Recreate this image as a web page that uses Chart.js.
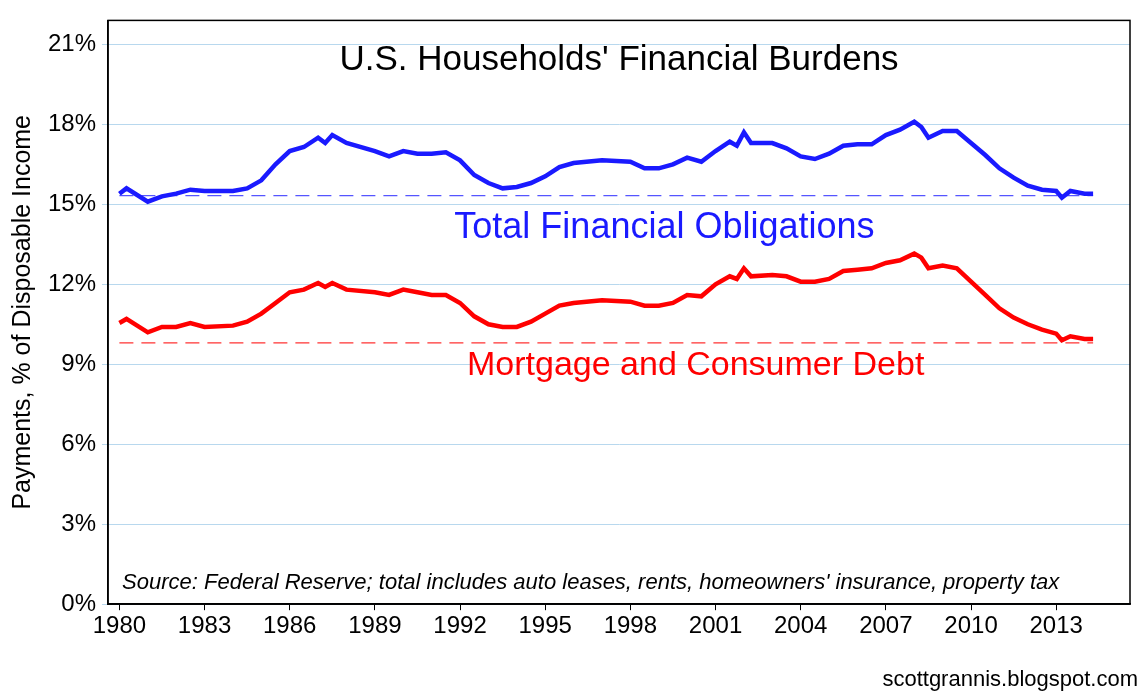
<!DOCTYPE html>
<html lang="en">
<head>
<meta charset="UTF-8">
<title>U.S. Households' Financial Burdens</title>
<script src="https://cdn.jsdelivr.net/npm/chart.js"></script>
<style>
  html, body { margin: 0; padding: 0; background: #fff; }
  .wrap { width: 1146px; height: 694px; }
</style>
</head>
<body>
<div class="wrap"><canvas id="burdens"></canvas></div>
<script>
// readings (year, % of disposable income)
const years = [1980, 1980.25, 1981, 1981.5, 1982, 1982.5, 1983, 1984, 1984.5, 1985, 1985.5, 1986, 1986.5, 1987, 1987.25, 1987.5,
  1988, 1989, 1989.5, 1990, 1990.5, 1991, 1991.5, 1992, 1992.5, 1993, 1993.5, 1994, 1994.5, 1995, 1995.5, 1996, 1997, 1998,
  1998.5, 1999, 1999.5, 2000, 2000.5, 2001, 2001.5, 2001.75, 2002, 2002.25, 2003, 2003.5, 2004, 2004.5, 2005, 2005.5, 2006,
  2006.5, 2007, 2007.5, 2008, 2008.25, 2008.5, 2009, 2009.5, 2010, 2010.5, 2011, 2011.5, 2012, 2012.5, 2013, 2013.2, 2013.5, 2014, 2014.3];
const totalObligations = [15.4, 15.6, 15.1, 15.3, 15.4, 15.55, 15.5, 15.5, 15.6, 15.9, 16.5, 17.0, 17.15, 17.5, 17.3, 17.6,
  17.3, 17.0, 16.8, 17.0, 16.9, 16.9, 16.95, 16.65, 16.1, 15.8, 15.6, 15.65, 15.8, 16.05, 16.4, 16.55, 16.65, 16.6,
  16.35, 16.35, 16.5, 16.75, 16.6, 17.0, 17.35, 17.2, 17.7, 17.3, 17.3, 17.1, 16.8, 16.7, 16.9, 17.2, 17.25,
  17.25, 17.6, 17.8, 18.1, 17.9, 17.5, 17.75, 17.75, 17.3, 16.85, 16.35, 16.0, 15.7, 15.55, 15.5, 15.25, 15.5, 15.4, 15.4];
const debtService = [10.55, 10.7, 10.2, 10.4, 10.4, 10.55, 10.4, 10.45, 10.6, 10.9, 11.3, 11.7, 11.8, 12.05, 11.9, 12.05,
  11.8, 11.7, 11.6, 11.8, 11.7, 11.6, 11.6, 11.3, 10.8, 10.5, 10.4, 10.4, 10.6, 10.9, 11.2, 11.3, 11.4, 11.35,
  11.2, 11.2, 11.3, 11.6, 11.55, 12.0, 12.3, 12.2, 12.6, 12.3, 12.35, 12.3, 12.1, 12.1, 12.2, 12.5, 12.55,
  12.6, 12.8, 12.9, 13.15, 13.0, 12.6, 12.7, 12.6, 12.1, 11.6, 11.1, 10.75, 10.5, 10.3, 10.15, 9.9, 10.05, 9.95, 9.95];
const totalLatest = 15.33;
const debtLatest = 9.8;
const xTicks = [1980, 1983, 1986, 1989, 1992, 1995, 1998, 2001, 2004, 2007, 2010, 2013];
const yTicks = [0, 3, 6, 9, 12, 15, 18, 21];

const FONT = "'Liberation Sans Narrow', 'Liberation Sans', Arial, sans-serif";
const pts = arr => years.map((x, i) => ({ x: x, y: arr[i] }));
const flat = v => [{ x: 1980, y: v }, { x: 2014.3, y: v }];

const labels = {
  id: 'labels',
  afterDraw(chart) {
    const c = chart.ctx, xs = chart.scales.x, ys = chart.scales.y, a = chart.chartArea;
    c.save();
    c.textAlign = 'center';
    c.textBaseline = 'middle';
    c.fillStyle = '#000';
    c.font = '35px ' + FONT;
    c.fillText("U.S. Households' Financial Burdens", xs.getPixelForValue(1997.6), ys.getPixelForValue(20.4));
    c.fillStyle = '#1a1aff';
    c.font = '36px ' + FONT;
    c.fillText('Total Financial Obligations', xs.getPixelForValue(1999.2), ys.getPixelForValue(14.1));
    c.fillStyle = '#ff0000';
    c.font = '34px ' + FONT;
    c.fillText('Mortgage and Consumer Debt', xs.getPixelForValue(2000.3), ys.getPixelForValue(8.95));
    c.textAlign = 'left';
    c.fillStyle = '#000';
    c.font = 'italic 22px ' + FONT;
    c.fillText("Source: Federal Reserve; total includes auto leases, rents, homeowners' insurance, property tax", a.left + 14, ys.getPixelForValue(0.8));
    c.textAlign = 'right';
    c.font = '22px ' + FONT;
    c.fillText('scottgrannis.blogspot.com', 1138, 680);
    c.restore();
  }
};

new Chart(document.getElementById('burdens'), {
  type: 'line',
  data: {
    datasets: [
      { data: pts(totalObligations), borderColor: '#1a1aff', borderWidth: 4.5, pointRadius: 0, tension: 0 },
      { data: pts(debtService), borderColor: '#ff0000', borderWidth: 4.5, pointRadius: 0, tension: 0 },
      { data: flat(totalLatest), borderColor: '#5555ff', borderWidth: 1.3, borderDash: [14, 8], pointRadius: 0 },
      { data: flat(debtLatest), borderColor: '#ff3333', borderWidth: 1.3, borderDash: [14, 8], pointRadius: 0 }
    ]
  },
  options: {
    responsive: true,
    maintainAspectRatio: false,
    animation: false,
    layout: { padding: { top: -11, right: 16, bottom: 51, left: 4 } },
    plugins: { legend: { display: false }, tooltip: { enabled: false } },
    scales: {
      x: {
        type: 'linear', min: 1979.6, max: 2015.6,
        afterBuildTicks: s => { s.ticks = xTicks.map(v => ({ value: v })); },
        ticks: { color: '#000', font: { size: 24, family: FONT }, maxRotation: 0, padding: 2, callback: v => v },
        grid: { display: true, drawOnChartArea: false, drawTicks: true, tickLength: 6, color: '#000' },
        border: { color: '#000', width: 1.5 }
      },
      y: {
        min: 0, max: 21.9,
        afterBuildTicks: s => { s.ticks = yTicks.map(v => ({ value: v })); },
        ticks: { color: '#000', font: { size: 24, family: FONT }, padding: 6, callback: v => v + '%' },
        grid: { color: '#b8d8ee', lineWidth: 1, drawTicks: true, tickLength: 6 },
        border: { color: '#000', width: 1.5 },
        title: { display: true, text: 'Payments, % of Disposable Income', color: '#000', font: { size: 25, family: FONT }, padding: 4 }
      }
    }
  },
  plugins: [labels, {
    id: 'frame',
    afterDraw(chart) {
      const c = chart.ctx, a = chart.chartArea;
      c.save();
      c.strokeStyle = '#000';
      c.lineWidth = 1.5;
      c.strokeRect(a.left, a.top, a.right - a.left, a.bottom - a.top);
      c.restore();
    }
  }]
});
</script>
</body>
</html>
